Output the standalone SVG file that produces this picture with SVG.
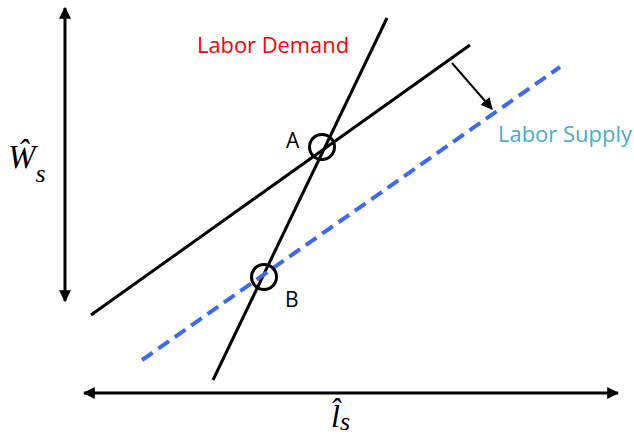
<svg xmlns="http://www.w3.org/2000/svg" width="634" height="441" viewBox="0 0 634 441">
<style>
.ax{stroke:#000;stroke-width:3;fill:none}
.ln{stroke:#000;stroke-width:3;fill:none}
.ds{stroke:#3D6BF0;stroke-width:4;stroke-dasharray:13 7;fill:none}
.lbl{font-family:"Open Sans","Liberation Sans",sans-serif;font-size:21px}
.math{font-family:"Liberation Serif",serif;font-style:italic}
.pt{stroke:#000;stroke-width:3;fill:none}
</style>
<defs>
<marker id="ah" viewBox="0 0 10 10" refX="9" refY="5" markerWidth="4" markerHeight="4" orient="auto-start-reverse" markerUnits="strokeWidth">
<path d="M0,0 L10,5 L0,10 z" fill="#000"/>
</marker>
<marker id="ah2" viewBox="0 0 10 10" refX="9" refY="5" markerWidth="6" markerHeight="6" orient="auto" markerUnits="strokeWidth">
<path d="M0,0 L10,5 L0,10 z" fill="#000"/>
</marker>
</defs>
<g id="connectors">
<line id="y-axis" class="ax" x1="65" y1="8" x2="65" y2="301" marker-start="url(#ah)" marker-end="url(#ah)"/>
<line id="x-axis" class="ax" x1="84" y1="393" x2="618" y2="393" marker-start="url(#ah)" marker-end="url(#ah)"/>
<line id="demand" class="ln" x1="213" y1="380" x2="387" y2="18"/>
<line id="supply" class="ln" x1="91" y1="315" x2="470" y2="45"/>
<line id="supply-new" class="ds" x1="142" y1="360" x2="560" y2="67"/>
<line id="shift" stroke="#000" stroke-width="2" x1="452" y1="63" x2="492" y2="109" marker-end="url(#ah2)"/>
</g>
<g id="pointA">
<circle class="pt" cx="322" cy="147" r="12.5"/>
<text class="lbl" x="286" y="148" font-size="22">A</text>
</g>
<g id="pointB">
<circle class="pt" cx="264" cy="277" r="12.5"/>
<text class="lbl" x="285" y="307" font-size="21">B</text>
</g>
<g id="labels">
<text class="lbl" x="197" y="53" fill="#FF0000" textLength="152" lengthAdjust="spacingAndGlyphs">Labor Demand</text>
<text class="lbl" x="498" y="142" fill="#4BACC6" textLength="134" lengthAdjust="spacingAndGlyphs">Labor Supply</text>
<text id="wlabel" class="math" x="8" y="168" font-size="33">Ŵ<tspan font-size="26" dy="14">s</tspan></text>
<text id="llabel" class="math" x="331" y="427" font-size="32">l̂<tspan font-size="26" dy="3">s</tspan></text>
</g>
</svg>
